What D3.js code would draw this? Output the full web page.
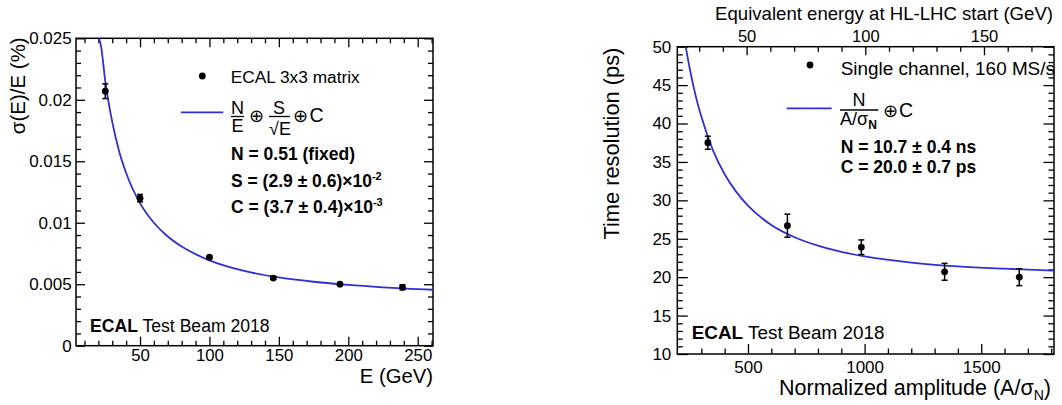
<!DOCTYPE html>
<html>
<head>
<meta charset="utf-8">
<script src="https://cdn.jsdelivr.net/npm/d3@7"></script>
<style>
  body { margin: 0; background: #fff; }
  text { fill: #000; }
</style>
</head>
<body>
<div id="chart"></div>
<script>
// ---- left panel: energy resolution ----
var energyGeV = [25, 50, 100, 146, 194, 239];
var energyRes = [0.0207, 0.0120, 0.0072, 0.0055, 0.0050, 0.00475];
var energyResErr = [0.0006, 0.0003, 0.0001, 0.0001, 0.0001, 0.0002];
// fit curve
var fitEnergy = [20.5, 22, 25, 30, 35, 40, 50, 60, 70, 80, 100, 125, 150, 175, 200, 225, 261];
var fitEnergyRes = [0.0250, 0.0243, 0.0215, 0.0182, 0.0158, 0.01405, 0.0116, 0.0100, 0.00888, 0.00806, 0.00694, 0.00608, 0.00555, 0.0052, 0.00494, 0.00475, 0.00455];
var leftXTicks = [50, 100, 150, 200, 250];
var leftYTicks = [0, 0.005, 0.01, 0.015, 0.02, 0.025];

// ---- right panel: time resolution ----
var amplitude = [328, 669, 986, 1343, 1663];
var amplitudeErr = [6, 8, 8, 14, 14];
var timeRes = [37.5, 26.7, 23.9, 20.7, 20.0];
var timeResErr = [0.85, 1.5, 0.95, 1.1, 1.1];
var fitAmplitude = [233, 250, 275, 300, 350, 400, 450, 500, 600, 700, 800, 900, 1000, 1200, 1400, 1600, 1812];
var fitTimeRes = [50, 47.2, 43.7, 40.9, 36.5, 33.4, 31.1, 29.3, 26.8, 25.2, 24.1, 23.3, 22.7, 21.9, 21.4, 21.1, 20.85];
var rightXTicks = [500, 1000, 1500];
var rightTopTicks = [50, 100, 150];
var rightYTicks = [10, 15, 20, 25, 30, 35, 40, 45, 50];

var FONT = "'Liberation Sans', Arial, Helvetica, sans-serif";
var FIT_COLOR = "#2f2fd4";

var svg = d3.select("#chart").append("svg")
    .attr("width", 1062)
    .attr("height", 405)
    .style("font-family", FONT);

svg.append("rect").attr("width", 1062).attr("height", 405).attr("fill", "white");

function inTicks(sel, axis, values, size, labels, pad, fontSize) {
    axis.tickValues(values)
        .tickSizeInner(-size)
        .tickSizeOuter(0)
        .tickPadding(pad || 3)
        .tickFormat(labels ? function (d) { return String(d); } : "");
    sel.call(axis);
    sel.select(".domain").remove();
    sel.attr("font-family", FONT).attr("font-size", fontSize || 17);
    sel.selectAll(".tick line").attr("stroke", "#000").attr("stroke-width", 1.3);
    sel.selectAll(".tick text").attr("fill", "#000");
    return sel;
}

function drawErrorPoints(g, xs, ys, yerr, xerr, x, y) {
    var cap = 3;
    xs.forEach(function (v, i) {
        var cx = x(v), cy = y(ys[i]);
        var top = y(ys[i] + yerr[i]), bot = y(ys[i] - yerr[i]);
        g.append("line").attr("x1", cx).attr("x2", cx).attr("y1", top).attr("y2", bot)
            .attr("stroke", "#000").attr("stroke-width", 1.5);
        g.append("line").attr("x1", cx - cap).attr("x2", cx + cap).attr("y1", top).attr("y2", top)
            .attr("stroke", "#000").attr("stroke-width", 1.5);
        g.append("line").attr("x1", cx - cap).attr("x2", cx + cap).attr("y1", bot).attr("y2", bot)
            .attr("stroke", "#000").attr("stroke-width", 1.5);
        if (xerr) {
            g.append("line").attr("x1", x(v - xerr[i])).attr("x2", x(v + xerr[i])).attr("y1", cy).attr("y2", cy)
                .attr("stroke", "#000").attr("stroke-width", 1.5);
        }
        g.append("circle").attr("cx", cx).attr("cy", cy).attr("r", 3.4).attr("fill", "#000");
    });
}

// ================= LEFT =================
var L = { x0: 76, x1: 433, y0: 38.3, y1: 345.7 };
var xL = d3.scaleLinear().domain([3.9, 261]).range([L.x0, L.x1]);
var yL = d3.scaleLinear().domain([0, 0.025]).range([L.y1, L.y0]);

var leftXMinor = d3.range(10, 261, 10).filter(function (d) { return d % 50 !== 0; });
var leftYMinor = d3.range(1, 25).filter(function (d) { return d % 5 !== 0; }).map(function (d) { return d / 1000; });

inTicks(svg.append("g").attr("transform", "translate(0," + L.y1 + ")"), d3.axisBottom(xL), leftXTicks, 9, true, 3.3, 16.8);
inTicks(svg.append("g").attr("transform", "translate(0," + L.y1 + ")"), d3.axisBottom(xL), leftXMinor, 5, false);
inTicks(svg.append("g").attr("transform", "translate(0," + L.y0 + ")"), d3.axisTop(xL), leftXTicks, 9, false);
inTicks(svg.append("g").attr("transform", "translate(0," + L.y0 + ")"), d3.axisTop(xL), leftXMinor, 5, false);
inTicks(svg.append("g").attr("transform", "translate(" + L.x0 + ",0)"), d3.axisLeft(yL), leftYTicks, 9, true, 4.3);
inTicks(svg.append("g").attr("transform", "translate(" + L.x0 + ",0)"), d3.axisLeft(yL), leftYMinor, 5, false);
inTicks(svg.append("g").attr("transform", "translate(" + L.x1 + ",0)"), d3.axisRight(yL), leftYTicks, 9, false);
inTicks(svg.append("g").attr("transform", "translate(" + L.x1 + ",0)"), d3.axisRight(yL), leftYMinor, 5, false);

svg.append("rect")
    .attr("x", L.x0).attr("y", L.y0).attr("width", L.x1 - L.x0).attr("height", L.y1 - L.y0)
    .attr("fill", "none").attr("stroke", "#000").attr("stroke-width", 1.5);

svg.append("clipPath").attr("id", "clipL").append("rect")
    .attr("x", L.x0).attr("y", L.y0).attr("width", L.x1 - L.x0).attr("height", L.y1 - L.y0);

var lineL = d3.line().curve(d3.curveMonotoneX)
    .x(function (d, i) { return xL(fitEnergy[i]); })
    .y(function (d) { return yL(d); });
svg.append("path").datum(fitEnergyRes)
    .attr("clip-path", "url(#clipL)")
    .attr("d", lineL).attr("fill", "none").attr("stroke", FIT_COLOR).attr("stroke-width", 1.8);

drawErrorPoints(svg.append("g"), energyGeV, energyRes, energyResErr, null, xL, yL);

svg.append("text").attr("x", L.x1).attr("y", 382.5).attr("text-anchor", "end")
    .attr("font-size", 20.3).text("E (GeV)");
svg.append("text").attr("transform", "translate(25," + (L.y0 - 1) + ") rotate(-90)")
    .attr("text-anchor", "end").attr("font-size", 20.5).text("σ(E)/E (%)");

// legend left
svg.append("circle").attr("cx", 202.3).attr("cy", 76).attr("r", 3.4).attr("fill", "#000");
svg.append("text").attr("x", 230.7).attr("y", 82.7).attr("font-size", 17.3).text("ECAL 3x3 matrix");
svg.append("line").attr("x1", 181).attr("x2", 223.3).attr("y1", 112.3).attr("y2", 112.3)
    .attr("stroke", FIT_COLOR).attr("stroke-width", 1.8);
var fl = svg.append("g").attr("font-size", 18);
fl.append("text").attr("x", 237.5).attr("y", 113.5).attr("text-anchor", "middle").text("N");
fl.append("line").attr("x1", 231).attr("x2", 244).attr("y1", 116.5).attr("y2", 116.5).attr("stroke", "#000").attr("stroke-width", 1.3);
fl.append("text").attr("x", 237.5).attr("y", 132).attr("text-anchor", "middle").text("E");
fl.append("text").attr("x", 256).attr("y", 121.5).attr("text-anchor", "middle").text("⊕");
fl.append("text").attr("x", 279).attr("y", 113.5).attr("text-anchor", "middle").text("S");
fl.append("line").attr("x1", 269).attr("x2", 290).attr("y1", 116.5).attr("y2", 116.5).attr("stroke", "#000").attr("stroke-width", 1.3);
fl.append("text").attr("x", 280).attr("y", 134.5).attr("text-anchor", "middle").text("√E");
fl.append("text").attr("x", 300.5).attr("y", 121.5).attr("text-anchor", "middle").text("⊕");
fl.append("text").attr("x", 309.5).attr("y", 122).attr("font-size", 19.5).text("C");

var pl = svg.append("g").attr("font-size", 17.5).attr("font-weight", "bold");
pl.append("text").attr("x", 231).attr("y", 160).text("N = 0.51 (fixed)");
var sLine = pl.append("text").attr("x", 231).attr("y", 186.7);
sLine.append("tspan").text("S = (2.9 ± 0.6)×10");
sLine.append("tspan").attr("dy", -7).attr("font-size", 11).text("-2");
var cLine = pl.append("text").attr("x", 231).attr("y", 213.3);
cLine.append("tspan").text("C = (3.7 ± 0.4)×10");
cLine.append("tspan").attr("dy", -7).attr("font-size", 11).text("-3");

var tbL = svg.append("text").attr("x", 90).attr("y", 331.7).attr("font-size", 17.6);
tbL.append("tspan").attr("font-weight", "bold").text("ECAL");
tbL.append("tspan").text(" Test Beam 2018");

// ================= RIGHT =================
var R = { x0: 677.3, x1: 1054, y0: 46.7, y1: 354 };
var xR = d3.scaleLinear().domain([197, 1812]).range([R.x0, R.x1]);
var xTop = d3.scaleLinear().domain([20.8, 179.5]).range([R.x0, R.x1]);
var yR = d3.scaleLinear().domain([10, 50]).range([R.y1, R.y0]);

var rightXMinor = d3.range(300, 1801, 100).filter(function (d) { return d % 500 !== 0; });
var rightTopMinor = d3.range(30, 180, 10).filter(function (d) { return d % 50 !== 0; });
var rightYMinor = d3.range(11, 50).filter(function (d) { return d % 5 !== 0; });

inTicks(svg.append("g").attr("transform", "translate(0," + R.y1 + ")"), d3.axisBottom(xR), rightXTicks, 10, true, 6.5);
inTicks(svg.append("g").attr("transform", "translate(0," + R.y1 + ")"), d3.axisBottom(xR), rightXMinor, 5.5, false);
inTicks(svg.append("g").attr("transform", "translate(0," + R.y0 + ")"), d3.axisTop(xTop), rightTopTicks, 8.5, true, 4.7, 16.5);
inTicks(svg.append("g").attr("transform", "translate(0," + R.y0 + ")"), d3.axisTop(xTop), rightTopMinor, 5, false);
inTicks(svg.append("g").attr("transform", "translate(" + R.x0 + ",0)"), d3.axisLeft(yR), rightYTicks, 10.5, true, 6);
inTicks(svg.append("g").attr("transform", "translate(" + R.x0 + ",0)"), d3.axisLeft(yR), rightYMinor, 5.5, false);
inTicks(svg.append("g").attr("transform", "translate(" + R.x1 + ",0)"), d3.axisRight(yR), rightYTicks, 10.5, false);
inTicks(svg.append("g").attr("transform", "translate(" + R.x1 + ",0)"), d3.axisRight(yR), rightYMinor, 5.5, false);

svg.append("rect")
    .attr("x", R.x0).attr("y", R.y0).attr("width", R.x1 - R.x0).attr("height", R.y1 - R.y0)
    .attr("fill", "none").attr("stroke", "#000").attr("stroke-width", 1.5);

svg.append("clipPath").attr("id", "clipR").append("rect")
    .attr("x", R.x0).attr("y", R.y0).attr("width", R.x1 - R.x0).attr("height", R.y1 - R.y0);

var lineR = d3.line().curve(d3.curveMonotoneX)
    .x(function (d, i) { return xR(fitAmplitude[i]); })
    .y(function (d) { return yR(d); });
svg.append("path").datum(fitTimeRes)
    .attr("clip-path", "url(#clipR)")
    .attr("d", lineR).attr("fill", "none").attr("stroke", FIT_COLOR).attr("stroke-width", 1.8);

drawErrorPoints(svg.append("g"), amplitude, timeRes, timeResErr, amplitudeErr, xR, yR);

var xtR = svg.append("text").attr("x", 1051).attr("y", 394.5).attr("text-anchor", "end").attr("font-size", 21.5);
xtR.append("tspan").text("Normalized amplitude (A/σ");
xtR.append("tspan").attr("dy", 5).attr("font-size", 14).text("N");
xtR.append("tspan").attr("dy", -5).text(")");

svg.append("text").attr("x", R.x1 - 1).attr("y", 20).attr("text-anchor", "end")
    .attr("font-size", 18.6).text("Equivalent energy at HL-LHC start (GeV)");
svg.append("text").attr("transform", "translate(619," + (R.y0 + 1) + ") rotate(-90)")
    .attr("text-anchor", "end").attr("font-size", 21.8).text("Time resolution (ps)");

// legend right
svg.append("circle").attr("cx", 810).attr("cy", 65).attr("r", 3.4).attr("fill", "#000");
svg.append("text").attr("x", 840.7).attr("y", 75).attr("font-size", 18.9).text("Single channel, 160 MS/s");
svg.append("line").attr("x1", 786.7).attr("x2", 831.7).attr("y1", 108.3).attr("y2", 108.3)
    .attr("stroke", FIT_COLOR).attr("stroke-width", 1.8);
var fr = svg.append("g").attr("font-size", 18);
fr.append("text").attr("x", 859).attr("y", 106).attr("text-anchor", "middle").text("N");
fr.append("line").attr("x1", 840).attr("x2", 878.3).attr("y1", 110).attr("y2", 110).attr("stroke", "#000").attr("stroke-width", 1.3);
var den = fr.append("text").attr("x", 840).attr("y", 125);
den.append("tspan").text("A/σ");
den.append("tspan").attr("dy", 4).attr("font-size", 12).attr("font-weight", "bold").text("N");
fr.append("text").attr("x", 890.5).attr("y", 116.5).attr("text-anchor", "middle").text("⊕");
fr.append("text").attr("x", 899).attr("y", 116.5).attr("font-size", 19.5).text("C");

var pr = svg.append("g").attr("font-size", 17.5).attr("font-weight", "bold");
pr.append("text").attr("x", 840.7).attr("y", 153.3).text("N = 10.7 ± 0.4 ns");
pr.append("text").attr("x", 840.7).attr("y", 173.3).text("C = 20.0 ± 0.7 ps");

var tbR = svg.append("text").attr("x", 691.7).attr("y", 339).attr("font-size", 18.9);
tbR.append("tspan").attr("font-weight", "bold").text("ECAL");
tbR.append("tspan").text(" Test Beam 2018");
</script>
</body>
</html>
